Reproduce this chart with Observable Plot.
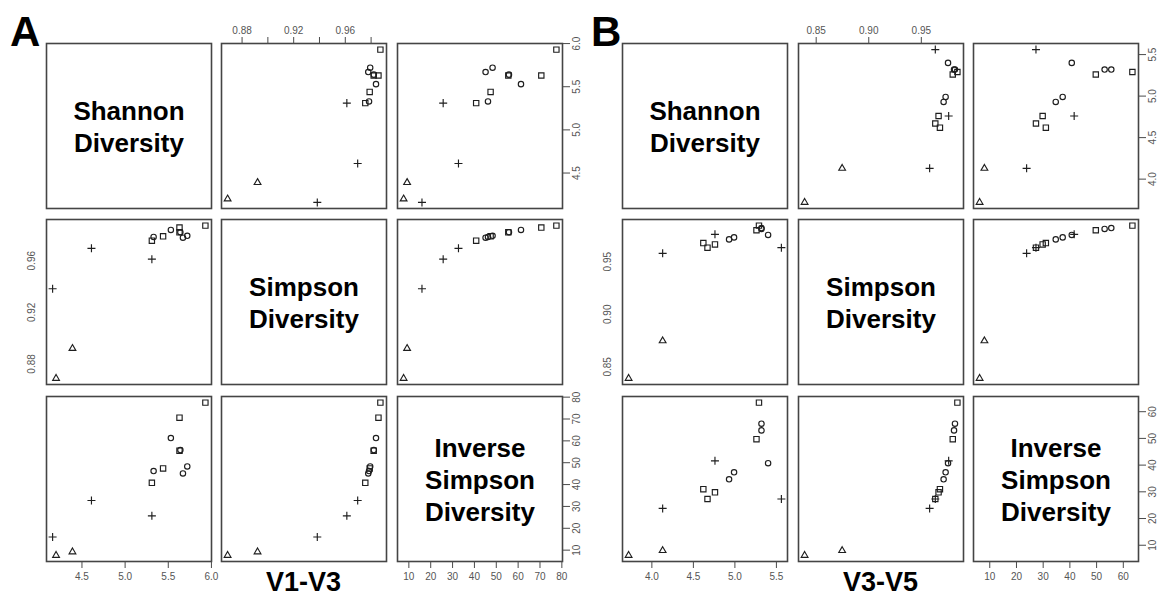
<!DOCTYPE html>
<html>
<head>
<meta charset="utf-8">
<script src="https://cdn.jsdelivr.net/npm/d3@7"></script>
<script src="https://cdn.jsdelivr.net/npm/@observablehq/plot@0.6"></script>
<style>
  body { margin: 0; background: #fff; }
  #fig { position: relative; width: 1158px; height: 596px; overflow: hidden;
         font-family: "Liberation Sans", Arial, sans-serif; background: #fff; }
  .tag { position: absolute; font-weight: bold; color: #000; line-height: 1; white-space: nowrap; }
  .panel { position: absolute; }
</style>
</head>
<body>
<div id="fig"></div>
<script>
// ---- V1-V3 region: one entry per sample ----
const shapeA = ["square","square","circle","square","circle","circle","circle","square","circle","square","plus","plus","plus","triangle","triangle"];
const shannonA = [5.93, 5.63, 5.53, 5.63, 5.64, 5.72, 5.67, 5.44, 5.33, 5.31, 4.61, 5.31, 4.16, 4.20, 4.39];
const simpsonA = [0.9872, 0.9857, 0.9838, 0.9820, 0.9821, 0.9793, 0.9778, 0.9789, 0.9784, 0.9755, 0.9696, 0.9612, 0.9383, 0.8688, 0.8920];
const invSimpsonA = [77.5, 70.6, 61.3, 55.5, 55.8, 48.3, 45.1, 47.4, 46.2, 40.8, 32.7, 25.7, 16.0, 7.6, 9.2];

// ---- V3-V5 region ----
const shapeB = ["square","circle","circle","square","circle","plus","circle","circle","square","square","square","plus","plus","triangle","triangle"];
const shannonB = [5.29, 5.32, 5.32, 5.26, 5.40, 4.76, 4.99, 4.93, 4.62, 4.76, 4.67, 5.56, 4.13, 4.13, 3.72];
const simpsonB = [0.9843, 0.9820, 0.9811, 0.9799, 0.9754, 0.9760, 0.9731, 0.9712, 0.9677, 0.9664, 0.9633, 0.9633, 0.9579, 0.8747, 0.8390];
const invSimpsonB = [63.4, 55.5, 53.0, 49.7, 40.7, 41.6, 37.3, 34.7, 31.0, 29.8, 27.3, 27.3, 23.8, 8.0, 6.2];

// ---- axis ticks and labelled ticks ----
const shannonTicksA = [4.5, 5.0, 5.5, 6.0];
const simpsonTicksA = [0.88, 0.90, 0.92, 0.94, 0.96, 0.98];
const simpsonLabelsA = [0.88, 0.92, 0.96];
const invTicksA = [10, 20, 30, 40, 50, 60, 70, 80];

const shannonTicksB = [4.0, 4.5, 5.0, 5.5];
const simpsonTicksB = [0.85, 0.90, 0.95];
const simpsonLabelsB = [0.85, 0.90, 0.95];
const invTicksB = [10, 20, 30, 40, 50, 60];

const diagLabels = ["Shannon\nDiversity", "Simpson\nDiversity", "Inverse\nSimpson\nDiversity"];
const panelTags = ["A", "B"];
const regionTitles = ["V1-V3", "V3-V5"];

// ---- layout ----
const SIZE = 165, M = 32;
const rowTops = [43, 219, 396];
const layouts = [
  {cols: [46, 221, 397], tagLeft: 10, shapes: shapeA, sh: shannonA, si: simpsonA, inv: invSimpsonA,
   ticks: [shannonTicksA, simpsonTicksA, invTicksA],
   labels: [shannonTicksA, simpsonLabelsA, invTicksA]},
  {cols: [622, 798, 973], tagLeft: 591, shapes: shapeB, sh: shannonB, si: simpsonB, inv: invSimpsonB,
   ticks: [shannonTicksB, simpsonTicksB, invTicksB],
   labels: [shannonTicksB, simpsonLabelsB, invTicksB]}
];
const formats = [d3.format(".1f"), d3.format(".2f"), d3.format("d")];
const keys = ["shannon", "simpson", "inv"];
const symbolSizes = {square: 3.0, circle: 2.7, plus: 2.7, triangle: 2.5};
const frameColor = "#454545", inkColor = "#1e1e1e", tickColor = "#4a4a4a", tickText = "#555";

// R-style padded extent (4% on each side)
function padded(values) {
  const [a, b] = d3.extent(values);
  const d = (b - a) * 0.04;
  return [a - d, b + d];
}

const fig = document.getElementById("fig");

layouts.forEach((L, gi) => {
  const rows = L.shapes.map((s, i) => ({shape: s, shannon: L.sh[i], simpson: L.si[i], inv: L.inv[i]}));
  const domains = [padded(L.sh), padded(L.si), padded(L.inv)];
  const fmt = (v, i) => L.labels[i].includes(v) ? formats[i](v) : "";

  for (let r = 0; r < 3; r++) {
    for (let c = 0; c < 3; c++) {
      const marks = [Plot.frame({stroke: frameColor, strokeWidth: 1.6})];
      if (r === c) {
        marks.push(Plot.text([diagLabels[r]], {
          text: d => d, frameAnchor: "middle", fontSize: 26, fontWeight: "bold",
          lineHeight: 1.23, fill: "#000", fontFamily: "Liberation Sans, Arial, sans-serif"
        }));
      } else {
        for (const s of ["square", "circle", "plus", "triangle"]) {
          marks.push(Plot.dot(rows, {
            filter: d => d.shape === s, x: keys[c], y: keys[r], symbol: s,
            r: symbolSizes[s], stroke: inkColor, strokeWidth: 1.15, fill: "none"
          }));
        }
      }
      const axisStyle = {color: tickColor, fontSize: 10, tickSize: 7, label: null};
      // top axis over the middle column, bottom axes under the outer columns
      if (r === 0 && c === 1) {
        marks.push(Plot.axisX({...axisStyle, anchor: "top", ticks: L.ticks[c], tickPadding: 3,
          tickFormat: v => fmt(v, c), fill: tickText}));
      }
      if (r === 2 && c !== 1) {
        marks.push(Plot.axisX({...axisStyle, anchor: "bottom", ticks: L.ticks[c], tickPadding: 4,
          tickFormat: v => fmt(v, c), fill: tickText}));
      }
      // left labels beside the middle row (no tick marks), right axes beside the outer rows
      if (c === 0 && r === 1) {
        marks.push(Plot.axisY({...axisStyle, anchor: "left", ticks: L.ticks[r], tickRotate: -90,
          tickSize: 0, tickPadding: 12, tickFormat: v => fmt(v, r), fill: tickText}));
      }
      if (c === 2 && r !== 1) {
        marks.push(Plot.axisY({...axisStyle, anchor: "right", ticks: L.ticks[r], tickRotate: -90,
          lineAnchor: "top", tickPadding: 3, tickFormat: v => fmt(v, r), fill: tickText}));
      }
      const svg = Plot.plot({
        width: SIZE + 2 * M, height: SIZE + 2 * M, margin: M,
        x: {domain: domains[c], axis: null},
        y: {domain: domains[r], axis: null},
        style: {background: "transparent", fontFamily: "Liberation Sans, Arial, sans-serif", overflow: "visible", maxWidth: "none"},
        marks
      });
      svg.classList.add("panel");
      svg.style.left = (L.cols[c] - M) + "px";
      svg.style.top = (rowTops[r] - M) + "px";
      fig.appendChild(svg);
    }
  }

  const tag = document.createElement("div");
  tag.className = "tag";
  tag.textContent = panelTags[gi];
  tag.style.fontSize = "42px";
  tag.style.left = L.tagLeft + "px";
  tag.style.top = "11px";
  fig.appendChild(tag);

  const title = document.createElement("div");
  title.className = "tag";
  title.textContent = regionTitles[gi];
  title.style.fontSize = "27px";
  title.style.width = "200px";
  title.style.textAlign = "center";
  title.style.left = (L.cols[1] + SIZE / 2 - 100) + "px";
  title.style.top = "569px";
  fig.appendChild(title);
});
</script>
</body>
</html>
